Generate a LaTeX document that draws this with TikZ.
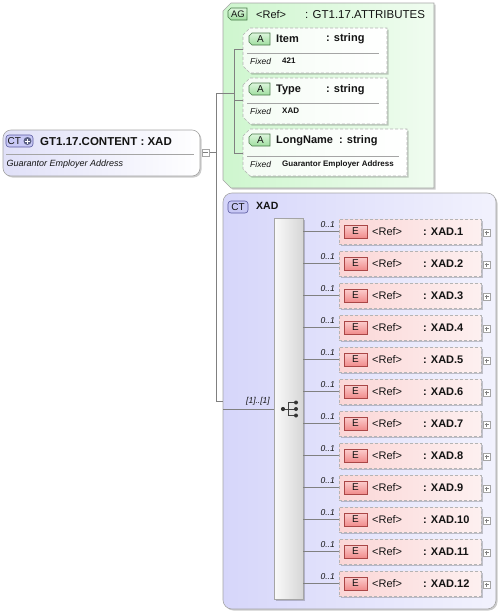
\documentclass[tikz,border=0pt]{standalone}
\usepackage{fontspec}
\setmainfont{Liberation Sans}
\usetikzlibrary{shadows}
\definecolor{lineg}{RGB}{128,128,128}
\definecolor{bordg}{RGB}{165,165,165}
\definecolor{dashg}{RGB}{180,180,180}
\definecolor{ctL}{RGB}{224,224,248}
\definecolor{xadL}{RGB}{214,214,250}
\definecolor{xadR}{RGB}{242,242,253}
\definecolor{agL}{RGB}{206,246,206}
\definecolor{agR}{RGB}{240,252,240}
\definecolor{atL}{RGB}{244,252,244}
\definecolor{elL}{RGB}{251,214,214}
\definecolor{elR}{RGB}{253,240,240}
\definecolor{gbadge}{RGB}{160,222,160}
\definecolor{gbadgeL}{RGB}{220,246,220}
\definecolor{gbord}{RGB}{70,120,70}
\definecolor{rbadge}{RGB}{240,140,140}
\definecolor{rbadgeL}{RGB}{252,205,205}
\definecolor{rbord}{RGB}{170,70,70}
\definecolor{bbadge}{RGB}{200,200,245}
\definecolor{bbord}{RGB}{90,90,160}
\definecolor{txt}{RGB}{20,20,20}
\definecolor{plusc}{RGB}{90,95,130}
\definecolor{compL}{RGB}{250,250,250}
\definecolor{compR}{RGB}{214,214,214}

\newcommand\chamf[2]{([yshift=-#2]#1.north west) -- ([xshift=#2]#1.north west) -- (#1.north east) -- (#1.south east) -- ([xshift=#2]#1.south west) -- ([yshift=#2]#1.south west) -- cycle}

\tikzset{
  shad/.style={drop shadow={shadow xshift=1.5pt,shadow yshift=-1.5pt,fill=black,opacity=0.2}},
  box/.style={draw=none,fill=none,inner sep=0,outer sep=0,rectangle,anchor=north west},
  conn/.style={draw=lineg,line width=0.6pt},
  lbl/.style={inner sep=0,anchor=west,text=txt},
  expbox/.style={draw=bordg,fill=white,minimum size=7.5pt,inner sep=0,line width=0.5pt},
  hdr/.style={lbl,font=\fontsize{11}{13}\selectfont\bfseries},
  hdrr/.style={lbl,font=\fontsize{11}{13}\selectfont},
  fixlbl/.style={lbl,font=\fontsize{8.5}{10}\selectfont\itshape},
  fixval/.style={lbl,font=\fontsize{8}{10}\selectfont\bfseries},
  occ/.style={inner sep=0,anchor=east,text=txt,font=\fontsize{8.5}{10}\selectfont\itshape},
  badgetxt/.style={inner sep=0,text=txt,font=\fontsize{10}{11}\selectfont},
}

\begin{document}
\begin{tikzpicture}[x=1pt,y=-1pt]
\useasboundingbox (0,0) rectangle (500,613);

% ---------- main complex type ----------
\node[box,draw=bordg,line width=0.6pt,rounded corners=8pt,left color=ctL,right color=white,shad,
      minimum width=197pt,minimum height=46pt] (ct) at (3,130) {};
\node[box,draw=bbord,line width=0.6pt,rounded corners=3pt,fill=bbadge,minimum width=27pt,minimum height=12pt] (ctb) at (6,135) {};
\node[badgetxt,anchor=west] (ctbt) at (7.5,141) {CT};
\node[circle,fill=plusc,minimum size=8pt,inner sep=0] (ctplus) at (27.5,141) {};
\draw[white,line width=1pt] ([xshift=-2.5pt]ctplus.center) -- ([xshift=2.5pt]ctplus.center)
      ([yshift=-2.5pt]ctplus.center) -- ([yshift=2.5pt]ctplus.center);
\node[lbl,font=\fontsize{11.5}{13}\selectfont\bfseries] (cttitle) at (40,141.5) {GT1.17.CONTENT : XAD};
\draw[bordg,line width=0.6pt] (6,154) -- (194,154);
\node[lbl,font=\fontsize{9}{11}\selectfont\itshape] (ctdesc) at (6.5,164) {Guarantor Employer Address};
\node[expbox] (ctexp) at (205.5,152.5) {};
\draw[lineg,line width=0.6pt] ([xshift=-2.2pt]ctexp.center) -- ([xshift=2.2pt]ctexp.center);

% ---------- attribute group ----------
\node[box,minimum width=211pt,minimum height=185pt] (ag) at (223,3) {};
\path[draw=bordg,line width=0.6pt,left color=agL,right color=agR,shad] \chamf{ag}{8pt};
\node[box,minimum width=19pt,minimum height=12pt] (agb) at (228,8) {};
\path[draw=gbord,line width=0.6pt,top color=gbadgeL,bottom color=gbadge] \chamf{agb}{3pt};
\node[badgetxt,font=\fontsize{9.5}{10}\selectfont] (agbt) at ([xshift=0.5pt]agb.center) {AG};
\node[hdrr] (agref) at (256,14.5) {<Ref>};
\node[lbl,font=\fontsize{11.5}{13}\selectfont] (agname) at (305,14.5) {: GT1.17.ATTRIBUTES};

% attributes
\foreach \n/\top/\w/\h/\sep/\fx/\val in {item/28/144/45/53/61/421, type/78/144/46/103/111/XAD, lname/129/164/47/156/164/Guarantor Employer Address}{
  \node[box,minimum width=\w pt,minimum height=\h pt] (\n) at (243,\top) {};
  \path[draw=dashg,line width=0.7pt,dash pattern=on 3pt off 2pt,left color=atL,right color=white,shad] \chamf{\n}{7pt};
  \node[box,minimum width=21pt,minimum height=12pt] (\n b) at (249,\top+5) {};
  \path[draw=gbord,line width=0.6pt,top color=gbadgeL,bottom color=gbadge] \chamf{\n b}{3pt};
  \node[badgetxt] (\n bt) at ([xshift=1pt]\n b.center) {A};
  \draw[bordg,line width=0.6pt] (247,\sep) -- ([xshift=-8pt]\n.east |- 0,\sep);
  \node[fixlbl] (\n fx) at (250,\fx) {Fixed};
  \node[fixval] (\n val) at (282,\fx) {\val};
}
\node[hdr] (itemname) at (276,39) {Item};
\node[hdr] (itemtype) at (326,39) {: string};
\node[hdr] (typename) at (276,90) {Type};
\node[hdr] (typetype) at (326,90) {: string};
\node[hdr] (lnamename) at (276,141) {LongName};
\node[hdr] (lnametype) at (339,141) {: string};

% ---------- sequence complex type ----------
\node[box,draw=bordg,line width=0.6pt,rounded corners=9pt,left color=xadL,right color=xadR,shad,
      minimum width=273pt,minimum height=416pt] (xad) at (223,193) {};
\node[box,draw=bbord,line width=0.6pt,rounded corners=3pt,fill=bbadge,minimum width=20pt,minimum height=12pt] (xadb) at (228,201) {};
\node[badgetxt] (xadbt) at (xadb.center) {CT};
\node[lbl,font=\fontsize{10.5}{12}\selectfont\bfseries] (xadtitle) at (256,206) {XAD};

\node[box,draw=bordg,line width=0.6pt,left color=compL,right color=compR,shad,
      minimum width=29pt,minimum height=381pt] (comp) at (274,218) {};
% sequence icon
\coordinate (ic) at (290,409);
\draw[black!75,line width=0.9pt] ([xshift=-7pt]ic) -- ([xshift=-2pt]ic)
   ([xshift=-2pt,yshift=6.5pt]ic) -- ([xshift=-2pt,yshift=-6.5pt]ic)
   ([xshift=-2pt,yshift=6.5pt]ic) -- ([xshift=6pt,yshift=6.5pt]ic)
   ([xshift=-2pt]ic) -- ([xshift=6pt]ic)
   ([xshift=-2pt,yshift=-6.5pt]ic) -- ([xshift=6pt,yshift=-6.5pt]ic);
\fill[black!80] ([xshift=-7pt]ic) circle (2.1pt)
   ([xshift=6pt,yshift=6.5pt]ic) circle (2pt) ([xshift=6pt]ic) circle (2pt) ([xshift=6pt,yshift=-6.5pt]ic) circle (2pt);

% ---------- elements ----------
\foreach \i in {1,...,12}{
  \pgfmathsetmacro\c{231.5+32*(\i-1)}
  \node[box,anchor=west,draw=dashg,line width=0.7pt,dash pattern=on 3pt off 2pt,left color=elL,right color=elR,shad,
        minimum width=142pt,minimum height=25pt] (el\i) at (339,\c) {};
  \node[box,anchor=west,draw=rbord,line width=0.6pt,top color=rbadgeL,bottom color=rbadge,
        minimum width=23pt,minimum height=13pt] (eb\i) at (344,\c) {};
  \node[badgetxt] (ebt\i) at (eb\i.center) {E};
  \node[hdrr] (elref\i) at (372,\c) {<Ref>};
  \node[hdr] (elname\i) at (423,\c) {: XAD.\i};
  \node[expbox] (elexp\i) at (486.5,\c+1) {};
  \draw[lineg,line width=0.5pt] ([xshift=-2pt]elexp\i.center) -- ([xshift=2pt]elexp\i.center)
        ([yshift=-2pt]elexp\i.center) -- ([yshift=2pt]elexp\i.center);
  \draw[conn] (comp.east |- el\i.west) -- (el\i.west);
  \node[occ] (occ\i) at (335,\c-6.5) {0..1};
}

% ---------- connectors ----------
\coordinate (jt) at (216,93);
\coordinate (jb) at (216,401);
\coordinate (agj) at (234,93);
\coordinate (a1) at (234,49);
\coordinate (a2) at (234,100);
\coordinate (a3) at (234,153);
\coordinate (sq) at (250,409);
\draw[conn] (ctexp.east) -- (ctexp.east -| jt);
\draw[conn] (jt) -- (jb);
\draw[conn] (jt) -- (agj);
\draw[conn] (a1) -- (a3);
\draw[conn] (a1) -- (a1 -| item.west);
\draw[conn] (a2) -- (a2 -| type.west);
\draw[conn] (a3) -- (a3 -| lname.west);
\draw[conn] (jb) -- (jb -| xad.west);
\draw[conn] (sq -| xad.west) -- (sq -| comp.west);
\node[occ] (seqocc) at (270,401.5) {[1]..[1]};
\end{tikzpicture}
\end{document}
